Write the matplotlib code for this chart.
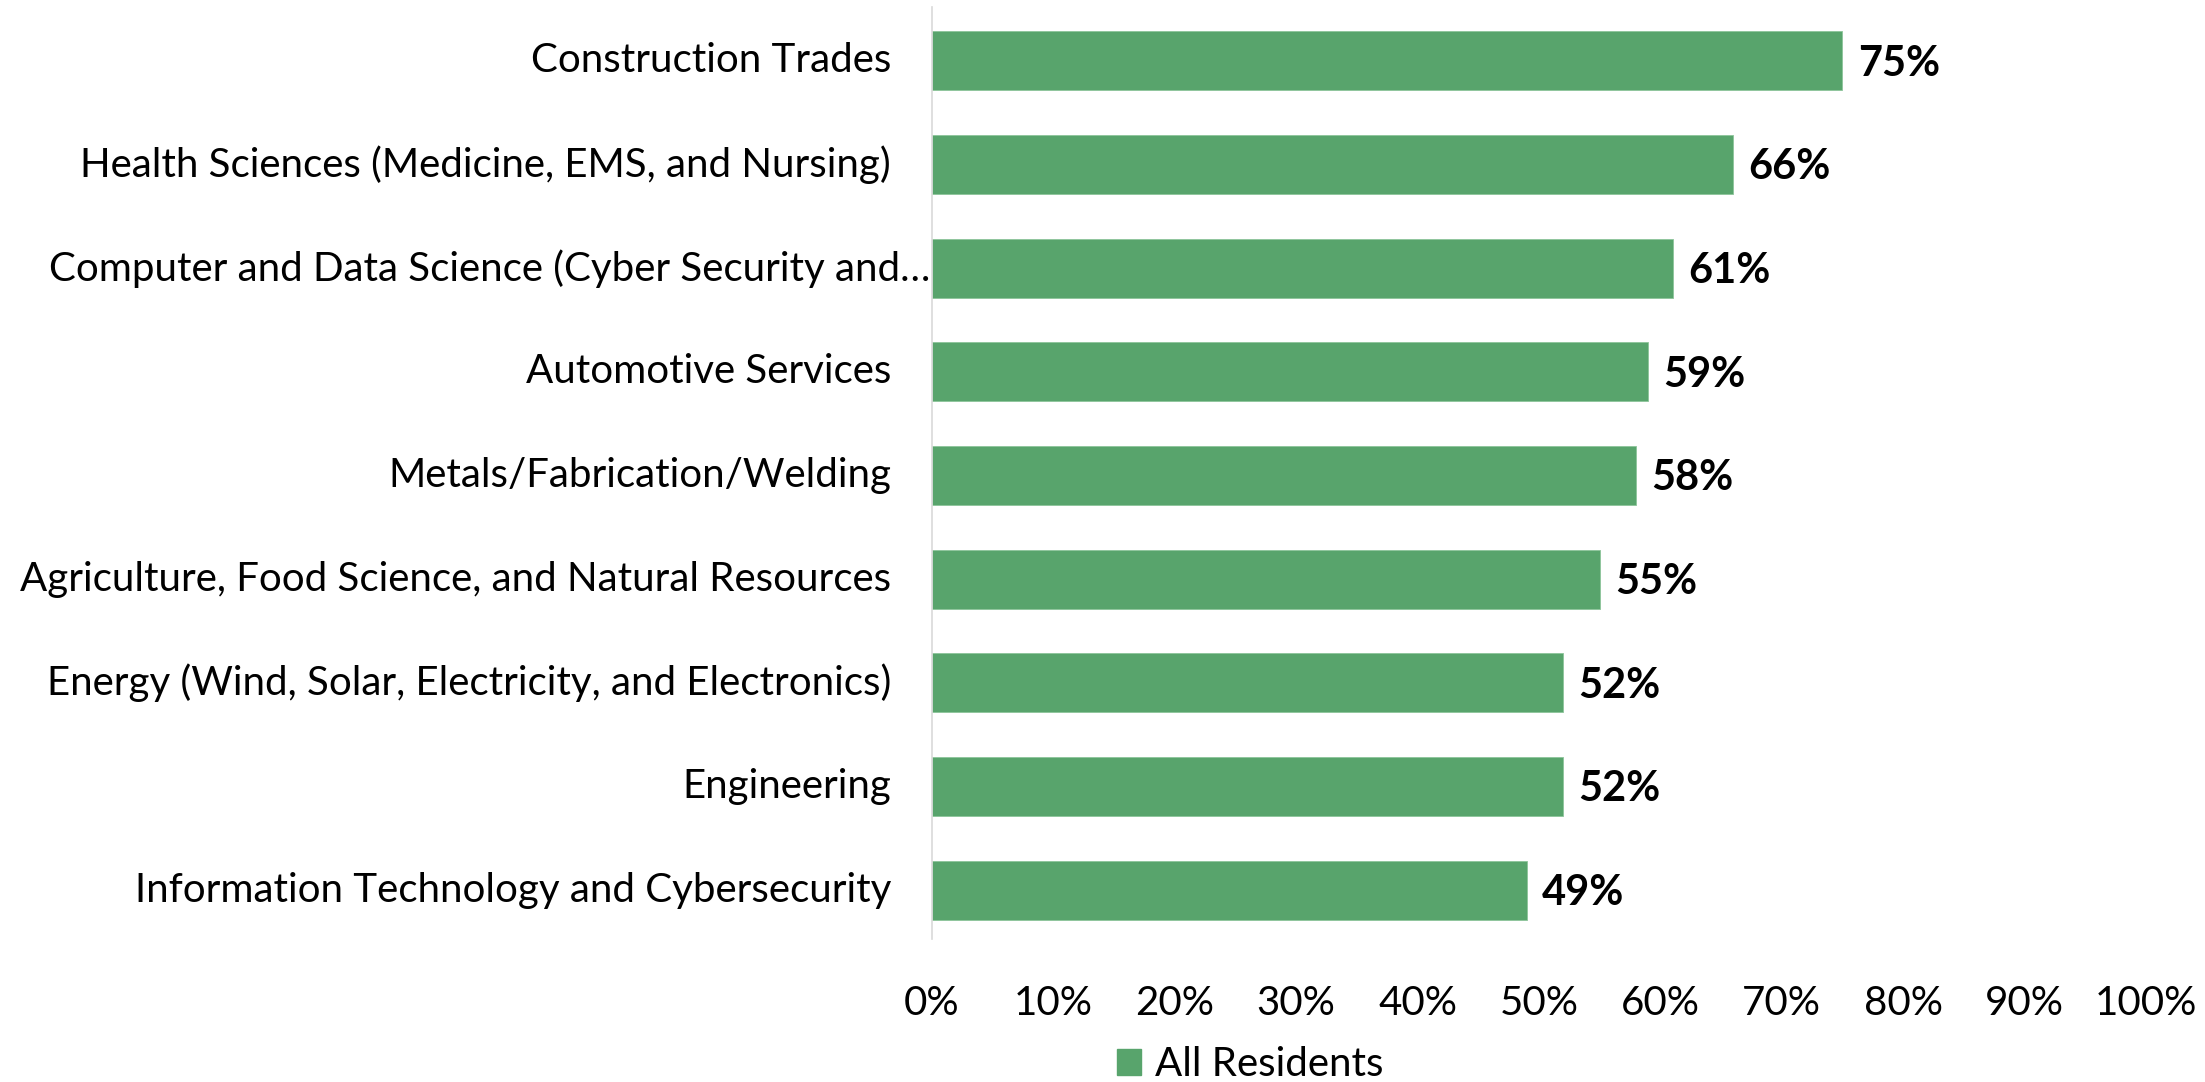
import matplotlib
matplotlib.use("Agg")
import matplotlib.pyplot as plt
from matplotlib.patches import Patch

categories = [
    "Construction Trades",
    "Health Sciences (Medicine, EMS, and Nursing)",
    "Computer and Data Science (Cyber Security and\u2026",
    "Automotive Services",
    "Metals/Fabrication/Welding",
    "Agriculture, Food Science, and Natural Resources",
    "Energy (Wind, Solar, Electricity, and Electronics)",
    "Engineering",
    "Information Technology and Cybersecurity",
]
values = [75, 66, 61, 59, 58, 55, 52, 52, 49]
value_labels = ["75%", "66%", "61%", "59%", "58%", "55%", "52%", "52%", "49%"]
xticks = [0, 10, 20, 30, 40, 50, 60, 70, 80, 90, 100]
xtick_labels = ["0%", "10%", "20%", "30%", "40%", "50%", "60%", "70%", "80%", "90%", "100%"]
series_name = "All Residents"

plt.rcParams['font.family'] = ['Lato', 'DejaVu Sans']
color = "#58A46C"

fig = plt.figure(figsize=(22.05, 10.82), dpi=100)
ax = fig.add_axes([0.4227, 0.1322, 0.9732 - 0.4227, 0.9935 - 0.1322])

ypos = list(range(len(categories)))
ax.barh(ypos, values, height=0.57, color=color, edgecolor="#8CC49A", linewidth=0.6)
ax.set_xlim(0, 100)
ax.set_ylim(8.47, -0.52)

for sp in ["top", "right", "bottom"]:
    ax.spines[sp].set_visible(False)
ax.spines["left"].set_color("#D9D9D9")
ax.spines["left"].set_linewidth(1.2)

ax.set_xticks(xticks)
ax.set_xticklabels(xtick_labels, fontsize=29)
ax.tick_params(axis="x", length=0, pad=33)
ax.set_yticks([])

for i, (cat, v, lab) in enumerate(zip(categories, values, value_labels)):
    dx = -41 if not cat.endswith("\u2026") else -2
    ax.annotate(cat, xy=(0, i), xycoords=("data", "data"), xytext=(dx * 0.72, 0),
                textcoords="offset points", ha="right", va="center", fontsize=29)
    ax.annotate(lab, xy=(v, i), xytext=(11, -2), textcoords="offset points",
                ha="left", va="center", fontsize=30, fontweight="bold")

handles = [Patch(facecolor=color, edgecolor=color, label=series_name)]
fig.legend(handles=handles, loc="center", bbox_to_anchor=(0.567, 0.016), frameon=False,
           fontsize=29, handlelength=0.6, handleheight=0.6, handletextpad=0.35)

fig.savefig("out.png", dpi=100, facecolor="white")
